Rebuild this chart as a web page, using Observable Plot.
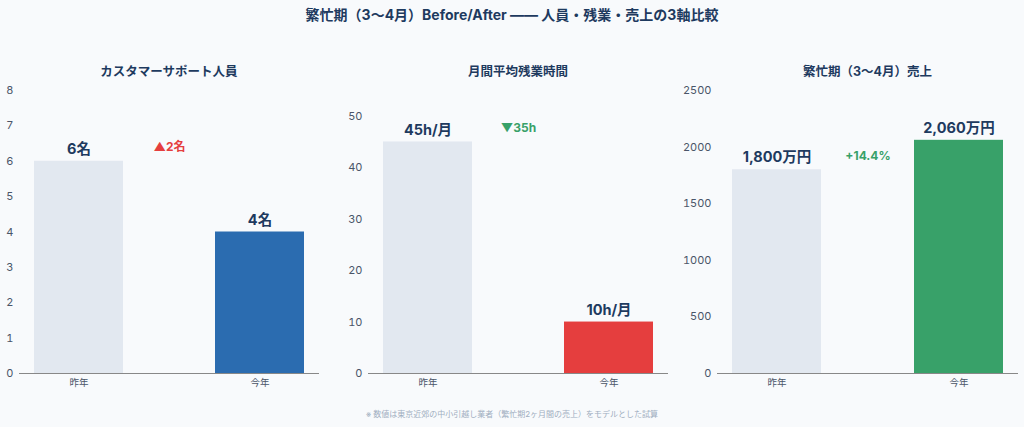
<!DOCTYPE html>
<html><head><meta charset="utf-8">
<script src="https://cdn.jsdelivr.net/npm/d3@7"></script>
<script src="https://cdn.jsdelivr.net/npm/@observablehq/plot@0.6"></script>
<style>
html,body{margin:0;padding:0;background:#f8fafc;width:1024px;height:427px;overflow:hidden;font-family:Inter,"Noto Sans CJK JP",sans-serif;}
#root{position:relative;width:1024px;height:427px;}
.title{position:absolute;left:0;width:1024px;top:5px;text-align:center;font-size:14px;font-weight:700;color:#1e3a5f;line-height:20px;}
.ptitle{position:absolute;top:63px;text-align:center;font-size:12.5px;font-weight:700;color:#1e3a5f;line-height:18px;}
.panel{position:absolute;top:80px;}
.caption{position:absolute;left:0;width:1024px;top:408px;text-align:center;font-size:8px;color:#a0aec0;line-height:12px;}
</style></head>
<body><div id="root">
<div class="title">繁忙期（3〜4月）Before/After —— 人員・残業・売上の3軸比較</div>
<div class="caption">※ 数値は東京近郊の中小引越し業者（繁忙期2ヶ月間の売上）をモデルとした試算</div>
</div>
<script>
const years = ["昨年", "今年"];
const staff = [6, 4];
const overtime = [45, 10];
const sales = [1800, 2060];
const staffLabels = ["6名", "4名"];
const overtimeLabels = ["45h/月", "10h/月"];
const salesLabels = ["1,800万円", "2,060万円"];
const panelTitles = ["カスタマーサポート人員", "月間平均残業時間", "繁忙期（3〜4月）売上"];
const deltas = ["▲2名", "▼35h", "+14.4%"];
const deltaColors = ["#e53e3e", "#38a169", "#38a169"];
const afterColors = ["#2b6cb0", "#e53e3e", "#38a169"];
const beforeColor = "#e2e8f0";
const staffTicks = [0, 1, 2, 3, 4, 5, 6, 7, 8];
const overtimeTicks = [0, 10, 20, 30, 40, 50];
const salesTicks = [0, 500, 1000, 1500, 2000, 2500];
const yDomains = [[0, 8], [0, 55], [0, 2500]];

const series = [staff, overtime, sales];
const labelSets = [staffLabels, overtimeLabels, salesLabels];
const tickSets = [staffTicks, overtimeTicks, salesTicks];
const layout = [
  {left: 0, width: 341, ml: 19, mr: 22},
  {left: 341, width: 341, ml: 27, mr: 14},
  {left: 682, width: 342, ml: 35, mr: 6}
];
const root = document.getElementById("root");
series.forEach((vals, i) => {
  const rows = years.map((y, j) => ({year: y, value: vals[j], label: labelSets[i][j]}));
  const L = layout[i];
  const chart = Plot.plot({
    width: L.width, height: 320,
    marginTop: 10, marginBottom: 27, marginLeft: L.ml, marginRight: L.mr,
    style: {background: "transparent", fontFamily: "Inter, 'Noto Sans CJK JP', sans-serif", color: "#4a5568"},
    x: {domain: years, paddingInner: 0.51, paddingOuter: 0.08, label: null, tickSize: 0, tickPadding: 6},
    y: {domain: yDomains[i], ticks: tickSets[i], label: null, tickSize: 0, tickPadding: 6, tickFormat: d => String(d)},
    color: {domain: years, range: [beforeColor, afterColors[i]]},
    marks: [
      Plot.barY(rows, {x: "year", y: "value", fill: "year"}),
      Plot.ruleY([0], {stroke: "#888", strokeWidth: 1.2}),
      Plot.text(rows, {x: "year", y: "value", text: "label", dy: -12, fontSize: 14.5, fontWeight: 700, fill: "#1e3a5f"}),
      Plot.text([deltas[i]], {y: [vals[0]], text: d => d, dy: -14, fontSize: 12, fontWeight: 700, fill: deltaColors[i]}),
      Plot.axisY({ticks: tickSets[i], tickSize: 0, tickPadding: 6, fontSize: 11, fill: "#4a5568", tickFormat: d => String(d)}),
      Plot.axisX({tickSize: 0, tickPadding: 6, fontSize: 9.5, fill: "#4a5568"})
    ]
  });
  const wrap = document.createElement("div");
  wrap.className = "panel";
  wrap.style.left = L.left + "px";
  wrap.appendChild(chart);
  root.appendChild(wrap);
  const t = document.createElement("div");
  t.className = "ptitle";
  t.style.left = (L.left + L.ml) + "px";
  t.style.width = (L.width - L.ml - L.mr) + "px";
  t.textContent = panelTitles[i];
  root.appendChild(t);
});
</script>
</body></html>
